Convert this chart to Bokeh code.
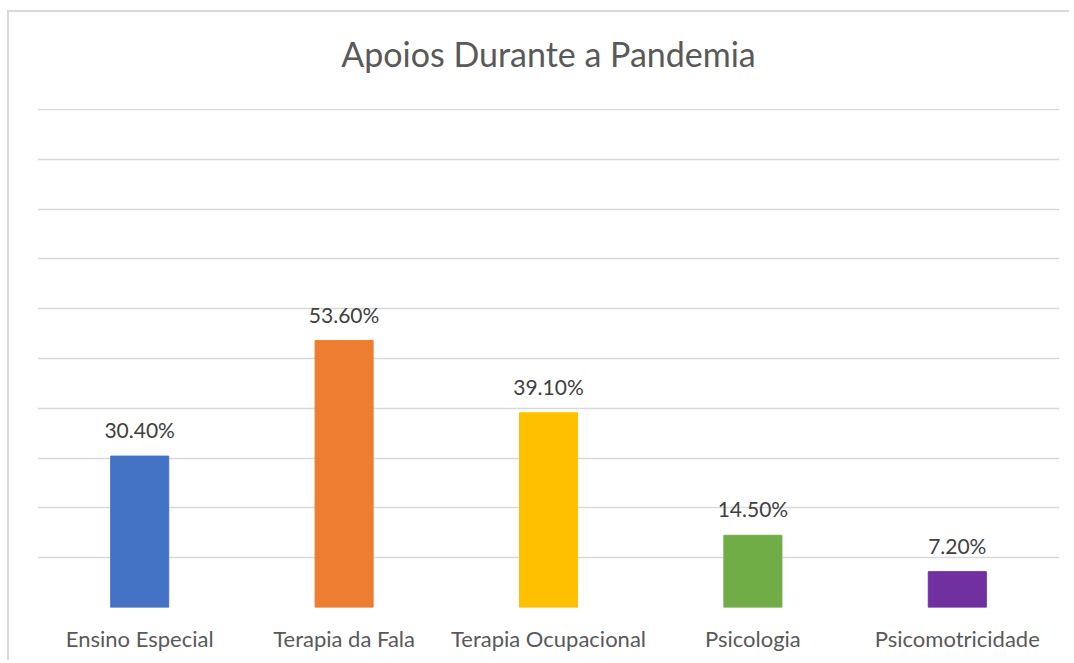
from bokeh.plotting import figure
from bokeh.models import ColumnDataSource, LabelSet, Title, Range1d, FactorRange, SingleIntervalTicker
from bokeh.core.properties import value
from bokeh.embed import file_html
from bokeh.resources import INLINE

title_text = "Apoios Durante a Pandemia"
categories = ["Ensino Especial", "Terapia da Fala", "Terapia Ocupacional", "Psicologia", "Psicomotricidade"]
values = [30.4, 53.6, 39.1, 14.5, 7.2]
colors = ["#4472C4", "#ED7D31", "#FFC000", "#70AD47", "#7030A0"]
labels = [f"{v:.2f}%" for v in values]

src = ColumnDataSource(dict(cat=categories, val=values, color=colors, label=labels))

p = figure(x_range=FactorRange(*categories), y_range=Range1d(0, 100.2), title=None,
           width=1062, height=650, output_backend="svg", toolbar_location=None,
           min_border_left=28, min_border_right=12, min_border_top=96, min_border_bottom=55,
           styles={"border-left": "2px solid #d9d9d9", "border-top": "2px solid #d9d9d9",
                   "margin-top": "10px", "margin-left": "7px"})

p.vbar(x="cat", top="val", width=0.284, color="color", source=src)

p.add_layout(LabelSet(x="cat", y="val", text="label", source=src, y_offset=18,
                      text_align="center", text_baseline="alphabetic",
                      text_font=value("Lato"), text_font_size=value("21px"), text_color="#404040"))

# empty spacer between the title and the plot area
p.add_layout(Title(text=" ", text_font_size="10px", standoff=17), "above")
p.add_layout(Title(text=title_text, align="center", text_font="Lato", text_font_size="34px",
                   text_font_style="normal", text_color="#595959", standoff=10), "above")

p.outline_line_color = None
p.background_fill_color = "white"
p.border_fill_color = "white"

p.yaxis.visible = False
p.ygrid.ticker = SingleIntervalTicker(interval=10)
p.ygrid.grid_line_color = "#d9d9d9"
p.ygrid.grid_line_width = 1.5
p.xgrid.grid_line_color = None

p.xaxis.axis_line_color = None
p.xaxis.major_tick_line_color = None
p.xaxis.minor_tick_line_color = None
p.xaxis.major_label_text_font = "Lato"
p.xaxis.major_label_text_font_size = "22px"
p.xaxis.major_label_text_color = "#595959"
p.xaxis.major_label_standoff = 11

open("out.html", "w").write(file_html(p, INLINE))
